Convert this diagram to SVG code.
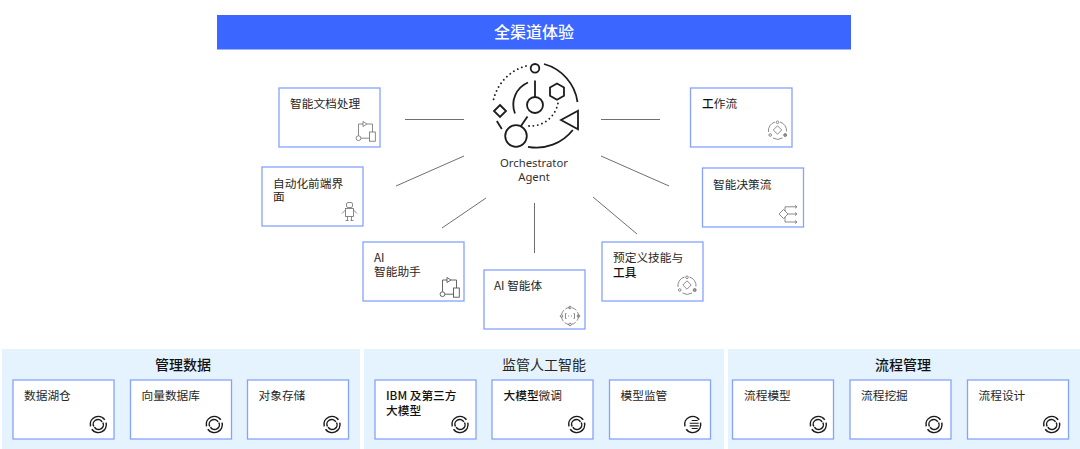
<svg xmlns="http://www.w3.org/2000/svg" width="1080" height="449" viewBox="0 0 1080 449">
<style>
text{font-family:"Noto Sans CJK SC","Noto Sans",sans-serif;font-size:11.7px;fill:#262626}
.b{font-weight:500;fill:#111}
.card{fill:#fff;stroke:#86a2ff;stroke-width:1.3}
.panel{fill:#e5f3ff}
.title{font-size:14px;text-anchor:middle}
.conn{stroke:#6f6f6f;stroke-width:1;fill:none}
.hub{fill:none;stroke:#1c1c1c;stroke-width:1.8}
.dot{fill:none;stroke:#1c1c1c;stroke-width:1.8;stroke-linecap:round;stroke-dasharray:.1 4.300}
.ag{font-family:"Noto Sans",sans-serif;font-size:11.300px;text-anchor:middle;fill:#333}
.ic{fill:none;stroke:#6e6e6e;stroke-width:.8}
.sw{fill:none;stroke:#1a1a1a;stroke-width:1.5}
</style>
<defs>
<g id="flow"><rect x="-10.500" y="-15" width="5.800" height="9.200"/><circle cx="-21.500" cy="-8.800" r="2.400"/><path d="M-19-8.800H-10.500M-21.500-11.300V-23H-17M-17-25.500L-13-23L-17-20.500ZM-13-23H-7.500V-15"/></g>
<g id="orbit"><path d="M-2.500-8A9 9 0 0 0-9 2M2.500-8A9 9 0 0 1 9 1.500M-4.500 8A9 9 0 0 0 5 8"/><path d="M0-4.200L4.200 0L0 4.200L-4.200 0Z"/><circle cx="0" cy="-7.700" r="1.300"/><circle cx="7.700" cy="5" r="1.500" fill="#9a9a9a"/><circle cx="-7.300" cy="5" r="1.300"/></g>
<g id="swirl"><path d="M6.500-4.700A8 8 0 0 0-7.800 1.800"/><path d="M-6.500 4.700A8 8 0 0 0 7.800-1.800"/><path d="M-4.500 2A4.500 4.500 0 0 1 3.800-2.600"/><path d="M4.500-2A4.500 4.500 0 0 1-3.800 2.600"/></g>
<g id="swirl2"><path d="M6.500-4.700A8 8 0 0 0-7.800 1.800"/><path d="M-6.500 4.700A8 8 0 0 0 7.800-1.800"/><path d="M-1-4H5M-3-1.300H6M-3 1.400H6M-1 4H5" stroke-width="1.100"/></g>
</defs>

<g id="top-bar"><rect x="217" y="15" width="634" height="34.500" fill="#3b66ff"/><text x="534" y="37.500" style="font-size:16px;text-anchor:middle;fill:#fff" class="b">全渠道体验</text></g>

<g id="connectors">
<path class="conn" d="M405 119.500H464M396 186L464 156M442 228L486 198M534.500 203V253M593 197L637 234M601 119.500H660M601 156L669 186"/>
</g>

<g id="orchestrator">
<circle class="hub" cx="535" cy="68.300" r="4.300"/>
<path class="hub" d="M535 80.500V97"/>
<circle class="hub" cx="535" cy="105" r="8"/>
<circle class="hub" cx="516" cy="136" r="10.800"/>
<path class="hub" d="M527.500 116.500L521 126"/>
<path class="hub" d="M557 83.500L564 87.500V95.700L557 99.800L550 95.700V87.500Z"/>
<path class="hub" d="M578 110.700L561 120L578 129.300Z"/>
<path class="hub" d="M500 105L506 111L500 117L494 111Z"/>
<path class="hub" d="M544 64A46 46 0 0 1 577.500 102"/>
<path class="hub" d="M528 146.800A46 46 0 0 0 572.800 130"/>
<path class="dot" d="M526 66A46 46 0 0 0 493 102"/>
<path class="hub" d="M496.800 121L501.800 129"/>
<path class="hub" d="M528 82.500A24 24 0 0 0 515 113.500"/>
<path class="dot" d="M529 126A28 28 0 0 0 558 103"/>
<text class="ag" x="534" y="167">Orchestrator<tspan x="534" dy="14">Agent</tspan></text>
</g>

<g id="node-doc"><rect class="card" x="279" y="88" width="101" height="59"/><text x="290" y="107.500">智能文档处理</text><use href="#flow" class="ic" x="380" y="147"/></g>
<g id="node-frontend"><rect class="card" x="262" y="167" width="101" height="59"/><text x="273" y="187.500">自动化前端界<tspan x="273" dy="13.500">面</tspan></text>
<g class="ic"><rect x="346.500" y="202.500" width="6" height="5" rx="1.500"/><rect x="345.500" y="208.500" width="8" height="8"/><path d="M345.500 210L342 213.500M353.500 210L357 213.500M347.500 216.500V220.500M351.500 216.500V220.500M345.500 220.500H348.500M350.500 220.500H353.500"/></g></g>
<g id="node-workflow"><rect class="card" x="690.500" y="88" width="101.500" height="59"/><text x="702" y="108"><tspan class="b">工</tspan>作流</text><use href="#orbit" class="ic" x="777.500" y="130"/></g>
<g id="node-decision"><rect class="card" x="702.500" y="168" width="101" height="59"/><text x="713" y="188.500">智能决策流</text>
<g class="ic"><path d="M783.500 209.500L788 214L783.500 218.500L779 214Z"/><path d="M785 211V206.800H796.500M788 214H796.500M785 217V222H796.500M795 205.300L797 206.800L795 208.300M795 212.500L797 214L795 215.500M795 220.500L797 222L795 223.500"/></g></g>
<g id="node-assistant"><rect class="card" x="363" y="242" width="101" height="59"/><text x="374" y="261.500">AI<tspan x="374" dy="14.500">智能助手</tspan></text><use href="#flow" style="fill:none;stroke:#555;stroke-width:.9" transform="translate(464 303)"/></g>
<g id="node-agent"><rect class="card" x="484" y="270" width="101" height="59"/><text x="494" y="289.500">AI 智能体</text>
<g class="ic"><circle cx="570" cy="316" r="8.500" stroke-dasharray="5 2"/><circle cx="570" cy="307.500" r="1.300"/><circle cx="578.500" cy="316" r="1.300"/><circle cx="570" cy="324.500" r="1.300"/><circle cx="561.500" cy="316" r="1.300"/><path d="M566.500 313.500H565.500V318.500H566.500M573.500 313.500H574.500V318.500H573.500M568 316H569M571 316H572"/></g></g>
<g id="node-skills"><rect class="card" x="602" y="242" width="101" height="59"/><text x="613" y="262">预定义技能与<tspan x="613" dy="14.500" class="b">工具</tspan></text><use href="#orbit" class="ic" x="687" y="285"/></g>

<g id="panel-data"><rect class="panel" x="2" y="349" width="358" height="100"/><text class="title b" x="183" y="370">管理数据</text>
<g id="card-lake"><rect class="card" x="13" y="380" width="101" height="59"/><text x="24" y="400">数据湖仓</text><use href="#swirl" class="sw" x="98.300" y="424.500"/></g>
<g id="card-vector"><rect class="card" x="130.500" y="380" width="101" height="59"/><text x="141.500" y="400">向量数据库</text><use href="#swirl" class="sw" x="214.300" y="424.500"/></g>
<g id="card-object"><rect class="card" x="247.500" y="380" width="101" height="59"/><text x="258.500" y="400">对象存储</text><use href="#swirl" class="sw" x="332" y="424.500"/></g></g>

<g id="panel-ai"><rect class="panel" x="364" y="349" width="360" height="100"/><text class="title" x="544" y="370">监管人工智能</text>
<g id="card-models"><rect class="card" x="375" y="380" width="101" height="59"/><text x="386" y="400" class="b">IBM 及第三方<tspan x="386" dy="15">大模型</tspan></text><use href="#swirl" class="sw" x="460" y="424.500"/></g>
<g id="card-tune"><rect class="card" x="492" y="380" width="101" height="59"/><text x="503.500" y="400"><tspan class="b">大模型</tspan>微调</text><use href="#swirl" class="sw" x="576.700" y="424.500"/></g>
<g id="card-monitor"><rect class="card" x="609.500" y="380" width="101" height="59"/><text x="620.500" y="400">模型监管</text><use href="#swirl2" class="sw" x="692.700" y="424.500"/></g></g>

<g id="panel-process"><rect class="panel" x="728" y="349" width="352" height="100"/><text class="title b" x="903" y="370">流程管理</text>
<g id="card-pmodel"><rect class="card" x="732.500" y="380" width="101" height="59"/><text x="744" y="400">流程模型</text><use href="#swirl" class="sw" x="818.300" y="424.500"/></g>
<g id="card-mining"><rect class="card" x="850" y="380" width="101" height="59"/><text x="861" y="400">流程挖掘</text><use href="#swirl" class="sw" x="934" y="424.500"/></g>
<g id="card-design"><rect class="card" x="967.500" y="380" width="101" height="59"/><text x="978.500" y="400">流程设计</text><use href="#swirl" class="sw" x="1051.700" y="424.500"/></g></g>
</svg>
